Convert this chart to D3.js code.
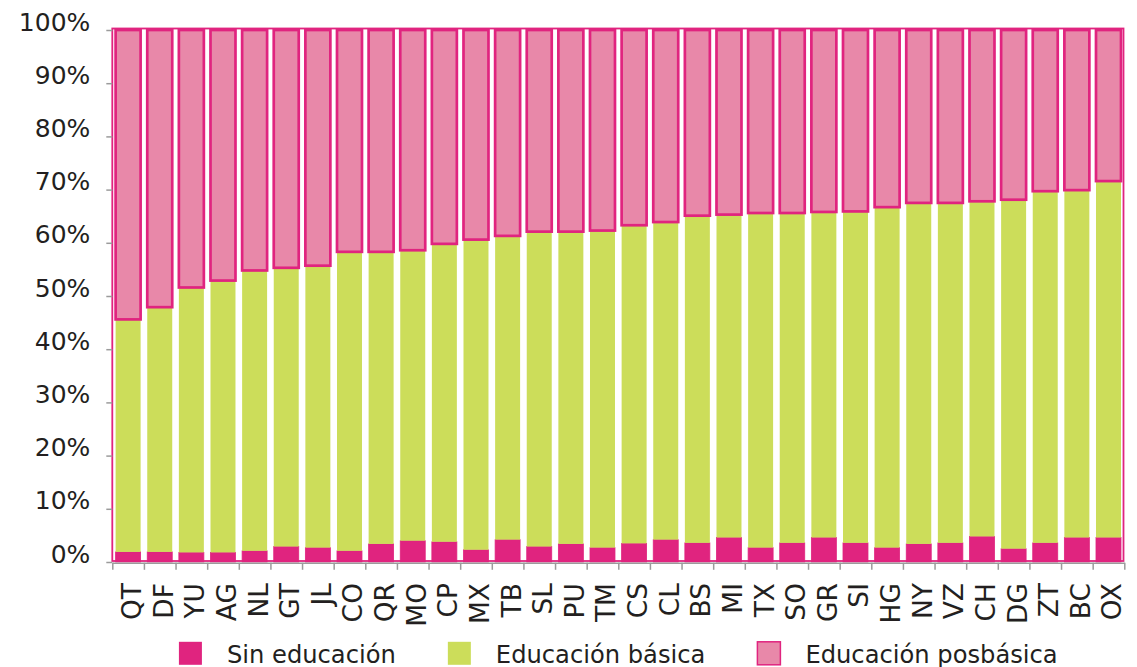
<!DOCTYPE html>
<html>
<head>
<meta charset="utf-8">
<script src="https://cdn.jsdelivr.net/npm/d3@7"></script>
<style>
  html, body { margin: 0; padding: 0; background: #ffffff; }
  svg { display: block; }
</style>
</head>
<body>
<svg id="chart" width="1137" height="667"></svg>
<script>
const categories = ["QT","DF","YU","AG","NL","GT","JL","CO","QR","MO","CP","MX","TB","SL","PU","TM",
                    "CS","CL","BS","MI","TX","SO","GR","SI","HG","NY","VZ","CH","DG","ZT","BC","OX"];
const sinEducacion = [1.9,1.9,1.8,1.8,2.1,2.9,2.7,2.1,3.4,4.0,3.8,2.3,4.2,2.9,3.4,2.7,
                      3.5,4.2,3.6,4.6,2.7,3.6,4.6,3.6,2.7,3.4,3.6,4.8,2.5,3.6,4.6,4.6];
const educacionBasica = [43.7,46.0,49.8,51.1,52.7,52.4,53.0,56.2,54.9,54.6,56.0,58.3,57.1,59.2,58.7,59.6,
                         59.8,59.7,61.5,60.7,62.9,62.0,61.2,62.3,64.0,64.1,63.9,63.0,65.6,66.1,65.3,67.0];
const educacionPosbasica = [54.4,52.1,48.4,47.1,45.2,44.7,44.3,41.7,41.7,41.4,40.2,39.4,38.7,37.9,37.9,37.7,
                            36.7,36.1,34.9,34.7,34.4,34.4,34.2,34.1,33.3,32.5,32.5,32.2,31.9,30.3,30.1,28.4];
const seriesNames = ["Sin educación","Educación básica","Educación posbásica"];
const yTicks = [0,10,20,30,40,50,60,70,80,90,100];

const MAGENTA = "#E0247F", GREEN = "#CCDD5A", PINK = "#E888A9", TEXT = "#231F20", GRAY = "#9B9B9B";
const FONT = "'DejaVu Sans', sans-serif";

const svg = d3.select("#chart");
const plotL = 112.3, plotR = 1124.3, plotT = 30, plotB = 562;

const x = d3.scaleBand().domain(categories).range([plotL, plotR]).paddingInner(0.21).paddingOuter(0.105);
const xb = d3.scaleLinear().domain([0, categories.length]).range([plotL, plotR]);
const y = d3.scaleLinear().domain([0, 100]).range([plotB, plotT]);

const keys = ["sin","bas","pos"];
const table = categories.map((c, i) => ({cat: c, sin: sinEducacion[i], bas: educacionBasica[i], pos: educacionPosbasica[i]}));
const stacked = d3.stack().keys(keys)(table);
const fills = {sin: MAGENTA, bas: GREEN, pos: PINK};

["sin","bas","pos"].forEach(k => {
  const layer = stacked.find(s => s.key === k);
  svg.append("g").selectAll("rect").data(layer).join("rect")
    .attr("x", d => x(d.data.cat))
    .attr("width", x.bandwidth())
    .attr("y", d => y(d[1]))
    .attr("height", d => y(d[0]) - y(d[1]))
    .attr("fill", fills[k])
    .attr("stroke", k === "bas" ? "none" : MAGENTA)
    .attr("stroke-width", k === "pos" ? 2.7 : 0.8);
});

// plot frame
svg.append("rect")
  .attr("x", plotL).attr("y", plotT - 1.5)
  .attr("width", plotR - plotL - 0.8).attr("height", plotB - plotT + 0.5)
  .attr("fill", "none").attr("stroke", MAGENTA).attr("stroke-width", 1.8);

// y axis
const yAxis = svg.append("g").attr("transform", `translate(${plotL},0)`)
  .call(d3.axisLeft(y).tickValues(yTicks).tickSize(6).tickPadding(16).tickFormat(d => d + "%"));
yAxis.select(".domain").remove();
yAxis.selectAll(".tick line").attr("stroke", GRAY).attr("stroke-width", 1.5);
yAxis.selectAll(".tick text").attr("dy", "0").attr("fill", TEXT)
  .style("font-family", FONT).style("font-size", "25px");

// x axis line + boundary ticks
const xAxisTicks = svg.append("g").attr("transform", `translate(0,${plotB + 0.8})`)
  .call(d3.axisBottom(xb).tickValues(d3.range(categories.length + 1)).tickSize(7).tickSizeOuter(0).tickFormat(""));
xAxisTicks.select(".domain").attr("stroke", GRAY).attr("stroke-width", 1.5);
xAxisTicks.selectAll(".tick line").attr("stroke", GRAY).attr("stroke-width", 1.5);

// x labels
const xAxis = svg.append("g").attr("transform", `translate(0,${plotB})`)
  .call(d3.axisBottom(x).tickSize(0));
xAxis.select(".domain").remove();
xAxis.selectAll(".tick text")
  .attr("transform", "rotate(-90)")
  .attr("text-anchor", "end")
  .attr("x", -21).attr("y", 0).attr("dy", "0.49em")
  .attr("fill", TEXT)
  .style("font-family", FONT).style("font-size", "26.5px");

// legend
const legend = svg.append("g");
const legendColors = [MAGENTA, GREEN, PINK];
const legendStroke = ["none", "none", MAGENTA];
const items = [];
seriesNames.forEach((name, i) => {
  const g = legend.append("g");
  g.append("rect").attr("x", 0).attr("y", 641.8).attr("width", 23).attr("height", 23)
    .attr("fill", legendColors[i]).attr("stroke", legendStroke[i]).attr("stroke-width", 1.5);
  const t = g.append("text").attr("x", 48).attr("y", 662.5).text(name)
    .attr("fill", TEXT).style("font-family", FONT).style("font-size", "24.2px");
  items.push({g, w: 48 + t.node().getComputedTextLength()});
});
const gap = 52;
const total = d3.sum(items, d => d.w) + gap * (items.length - 1);
let cx = (plotL + plotR) / 2 - total / 2;
items.forEach(it => { it.g.attr("transform", `translate(${cx},0)`); cx += it.w + gap; });
</script>
</body>
</html>
